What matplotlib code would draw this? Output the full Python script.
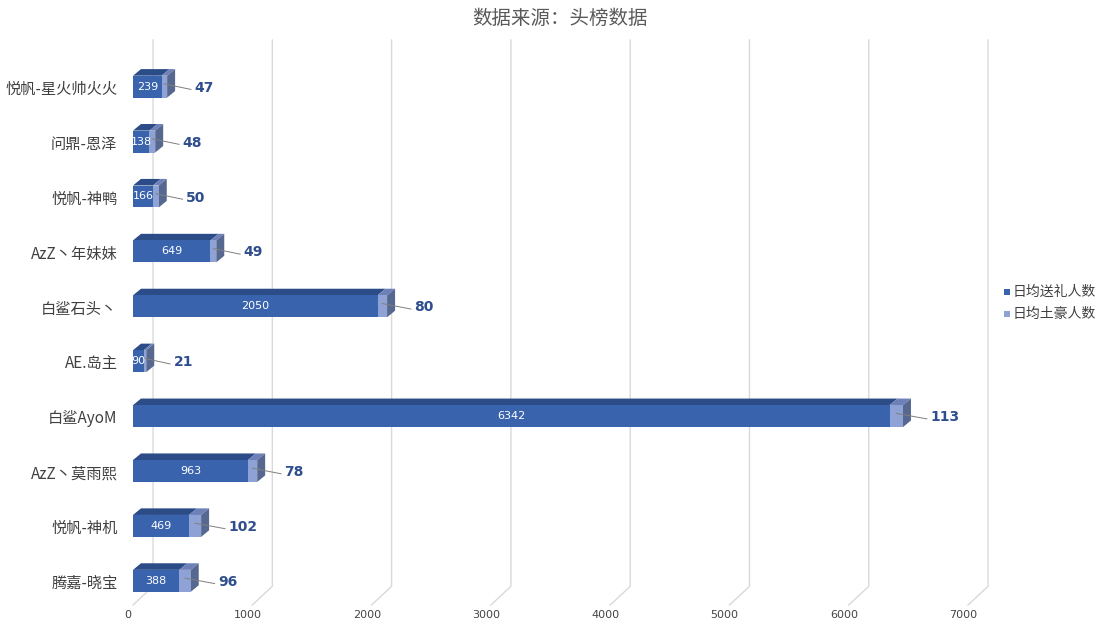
import matplotlib.pyplot as plt
from matplotlib.patches import Polygon, Rectangle

plt.rcParams['font.family'] = 'Noto Sans CJK SC'

# data, top to bottom as shown
names = ['悦帆-星火帅火火', '问鼎-恩泽', '悦帆-神鸭', 'AzZ丶年妹妹', '白鲨石头丶',
         'AE.岛主', '白鲨AyoM', 'AzZ丶莫雨熙', '悦帆-神机', '腾嘉-晓宝']
gift_users = [239, 138, 166, 649, 2050, 90, 6342, 963, 469, 388]
rich_users = [47, 48, 50, 49, 80, 21, 113, 78, 102, 96]
xticks = [0, 1000, 2000, 3000, 4000, 5000, 6000, 7000]

W, H = 1118, 638
fig = plt.figure(figsize=(W / 100, H / 100), dpi=100)
ax = fig.add_axes([133 / W, (H - 605) / H, 835 / W, 565 / H])
ax.set_xlim(0, 7000)
ax.set_ylim(-0.44, 9.85)
ax.axis('off')

dx, dy = 67, 0.06     # 3D depth offset (data units)
gdx = 168             # gridline back offset
bh = 0.4

# gridlines
for v in xticks:
    ax.plot([v + gdx, v + gdx, v], [9.85, -0.1, -0.44], color='#d9d9d9', lw=1, clip_on=False, zorder=0)
    ax.text(v - 40, -0.62, str(v), ha='center', va='center', fontsize=8, color='#444444',
            fontfamily='DejaVu Sans')

n = len(names)
front = ['#3A63AE', '#8FA2D6']
top = ['#2C4C88', '#6E80B8']
side = ['#56688F', '#7F8DB2']

for i, (name, a, b) in enumerate(zip(names, gift_users, rich_users)):
    y = n - 1 - i
    y0, y1 = y - bh / 2, y + bh / 2
    left = 0
    for k, v in enumerate([a, b]):
        r = left + v
        ax.add_patch(Polygon([(left, y1), (r, y1), (r + dx, y1 + dy * 2), (left + dx, y1 + dy * 2)],
                             closed=True, fc=top[k], ec='none', zorder=2))
        ax.add_patch(Rectangle((left, y0), v, bh, fc=front[k], ec='none', zorder=3))
        left = r
    ax.add_patch(Polygon([(left, y0), (left + dx, y0 + dy * 2), (left + dx, y1 + dy * 2), (left, y1)],
                         closed=True, fc=side[0], ec='none', zorder=2))
    ax.text(a / 2, y, str(a), ha='center', va='center', color='white', fontsize=8,
            fontfamily='DejaVu Sans', zorder=4)
    lx = a + b / 2
    ax.plot([lx, left + 200], [y + 0.05, y - 0.05], color='#7f7f7f', lw=0.7, zorder=4)
    ax.text(left + 230, y - 0.02, str(b), ha='left', va='center', color='#2F4E8E', fontsize=10,
            fontweight='bold', fontfamily='DejaVu Sans', zorder=4)
    ax.text(-130, y - 0.05, name, ha='right', va='center', fontsize=11, color='#404040')

fig.text(560 / W, 1 - 18 / H, '数据来源：头榜数据', ha='center', va='center', fontsize=14, color='#595959')

for j, (lab, c) in enumerate(zip(['日均送礼人数', '日均土豪人数'], front)):
    yy = 1 - (292 + j * 22) / H
    fig.patches.append(Rectangle((1004 / W, yy - 3 / H), 6 / W, 6 / H, fc=c, ec='none',
                                 transform=fig.transFigure, figure=fig))
    fig.text(1013 / W, yy, lab, ha='left', va='center', fontsize=10, color='#404040')

fig.savefig('out.png', dpi=100)
